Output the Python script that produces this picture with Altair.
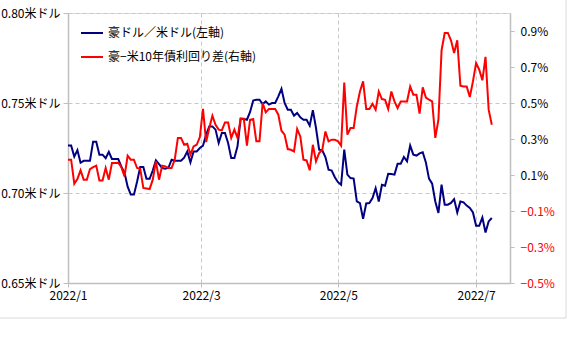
import altair as alt
import pandas as pd

# business-day index (0 = first trading day of 2022)
day_index = list(range(136))

aud_usd = [
    0.7264, 0.7264, 0.7202, 0.7238, 0.7168, 0.7179, 0.7179, 0.7179, 0.7285, 0.7285,
    0.7213, 0.7213, 0.7193, 0.7229, 0.7189, 0.7189, 0.7189, 0.7146, 0.7113, 0.7035,
    0.6991, 0.6991, 0.7063, 0.7144, 0.7144, 0.7079, 0.7079, 0.7125, 0.7181, 0.7160,
    0.7139, 0.7135, 0.7140, 0.7185, 0.7179, 0.7179, 0.7179, 0.7196, 0.7231, 0.7170,
    0.7231, 0.7231, 0.7250, 0.7263, 0.7324, 0.7370, 0.7370, 0.7352, 0.7278, 0.7333,
    0.7333, 0.7278, 0.7194, 0.7194, 0.7259, 0.7413, 0.7411, 0.7407, 0.7450, 0.7514,
    0.7518, 0.7518, 0.7494, 0.7509, 0.7491, 0.7500, 0.7500, 0.7537, 0.7579, 0.7500,
    0.7463, 0.7463, 0.7430, 0.7445, 0.7420, 0.7407, 0.7407, 0.7374, 0.7460, 0.7361,
    0.7241, 0.7237, 0.7200, 0.7129, 0.7125, 0.7088, 0.7060, 0.7046, 0.7241, 0.7102,
    0.7083, 0.7080, 0.6953, 0.6944, 0.6856, 0.6942, 0.6944, 0.6972, 0.7027, 0.6953,
    0.7046, 0.7040, 0.7107, 0.7105, 0.7102, 0.7163, 0.7163, 0.7200, 0.7176, 0.7263,
    0.7213, 0.7208, 0.7220, 0.7226, 0.7170, 0.7080, 0.7052, 0.6953, 0.6889, 0.7046,
    0.6935, 0.6935, 0.6945, 0.6966, 0.6892, 0.6953, 0.6948, 0.6930, 0.6917, 0.6892,
    0.6818, 0.6818, 0.6864, 0.6781, 0.6842, 0.6861,
]

spread_pct = [
    0.185, 0.185, 0.052, 0.078, 0.126, 0.074, 0.074, 0.133, 0.144, 0.152,
    0.070, 0.070, 0.139, 0.074, 0.167, 0.167, 0.168, 0.144, 0.092, 0.207,
    0.185, 0.185, 0.139, 0.135, 0.028, 0.025, 0.022, 0.074, 0.176, 0.074,
    0.152, 0.148, 0.139, 0.139, 0.185, 0.306, 0.306, 0.268, 0.274, 0.213,
    0.259, 0.268, 0.311, 0.468, 0.283, 0.361, 0.429, 0.379, 0.352, 0.348,
    0.392, 0.392, 0.306, 0.352, 0.306, 0.413, 0.413, 0.263, 0.407, 0.411,
    0.287, 0.287, 0.500, 0.448, 0.467, 0.467, 0.467, 0.435, 0.346, 0.324,
    0.244, 0.240, 0.231, 0.356, 0.314, 0.185, 0.181, 0.126, 0.268, 0.176,
    0.222, 0.240, 0.342, 0.287, 0.296, 0.296, 0.287, 0.263, 0.614, 0.324,
    0.361, 0.361, 0.481, 0.564, 0.620, 0.467, 0.467, 0.496, 0.463, 0.564,
    0.522, 0.518, 0.467, 0.564, 0.509, 0.472, 0.509, 0.509, 0.509, 0.592,
    0.546, 0.546, 0.441, 0.587, 0.530, 0.518, 0.509, 0.306, 0.407, 0.792,
    0.889, 0.889, 0.848, 0.778, 0.848, 0.596, 0.592, 0.592, 0.533, 0.620,
    0.722, 0.685, 0.626, 0.756, 0.463, 0.379,
]

x_tick_pos = [0, 42.4, 86.1, 130]
x_tick_labels = ["2022/1", "2022/3", "2022/5", "2022/7"]
left_ticks = [0.65, 0.70, 0.75, 0.80]
right_ticks = [-0.5, -0.3, -0.1, 0.1, 0.3, 0.5, 0.7, 0.9]

series_names = ["豪ドル／米ドル(左軸)", "豪−米10年債利回り差(右軸)"]
series_colors = ["#000080", "#ff0000"]

FONT = "Noto Sans CJK JP"

df_aud = pd.DataFrame({"idx": day_index, "v": aud_usd, "series": series_names[0]})
df_spr = pd.DataFrame({"idx": day_index, "v": spread_pct, "series": series_names[1]})

label_expr = "''"
for p, l in reversed(list(zip(x_tick_pos, x_tick_labels))):
    label_expr = f"abs(datum.value - {p}) < 0.5 ? '{l}' : ({label_expr})"

x_enc = alt.X(
    "idx:Q",
    scale=alt.Scale(domain=[0, 140.8], nice=False, zero=False),
    axis=alt.Axis(
        values=x_tick_pos, labelExpr=label_expr, title=None,
        grid=True, gridDash=[4, 3], gridColor="#c8c8c8",
        domainColor="#bfbfbf", domainWidth=1.5,
        tickColor="#bfbfbf", tickSize=4, labelPadding=3,
        labelFlush=False,
        labelFont=FONT, labelFontSize=12, labelColor="#000000",
    ),
)

color_enc = alt.Color(
    "series:N",
    scale=alt.Scale(domain=series_names, range=series_colors),
    legend=alt.Legend(
        title=None, orient="none", legendX=12, legendY=8,
        symbolType="stroke", symbolSize=484, symbolStrokeWidth=2,
        labelFont=FONT, labelFontSize=12, labelColor="#000000",
        rowPadding=6, padding=0, labelOffset=4,
    ),
)

left_line = alt.Chart(df_aud).mark_line(strokeWidth=2).encode(
    x=x_enc,
    y=alt.Y(
        "v:Q",
        scale=alt.Scale(domain=[0.65, 0.80], nice=False, zero=False),
        axis=alt.Axis(
            values=left_ticks, title=None,
            labelExpr="format(datum.value, '.2f') + '米ドル'",
            grid=True, gridDash=[4, 3], gridColor="#c8c8c8",
            domainColor="#bfbfbf", domainWidth=1.5,
            tickColor="#bfbfbf", tickSize=5, labelPadding=3,
            labelFont=FONT, labelFontSize=12, labelColor="#000000",
        ),
    ),
    color=color_enc,
)

right_line = alt.Chart(df_spr).mark_line(strokeWidth=2).encode(
    x=x_enc,
    y=alt.Y(
        "v:Q",
        scale=alt.Scale(domain=[-0.5, 1.0], nice=False, zero=False),
        axis=alt.Axis(
            orient="right", values=right_ticks, title=None,
            labelExpr="format(datum.value, '.1f') + '%'",
            grid=False,
            domainColor="#bfbfbf", domainWidth=1.5,
            tickColor="#bfbfbf", tickSize=4, labelPadding=6,
            labelFont=FONT, labelFontSize=12,
            labelColor={"condition": {"test": "datum.value < 0", "value": "#ff0000"}, "value": "#000000"},
        ),
    ),
    color=color_enc,
)

# thin outer frame of the chart area (bottom and right edges)
frame_bottom = alt.Chart(df_aud.head(1)).mark_rule(color="#d9d9d9", strokeWidth=1).encode(
    x=alt.value(-68), x2=alt.value(498), y=alt.value(305)
)
frame_right = alt.Chart(df_aud.head(1)).mark_rule(color="#d9d9d9", strokeWidth=1).encode(
    x=alt.value(498), y=alt.value(-13), y2=alt.value(305)
)

chart = (
    alt.layer(left_line, right_line, frame_bottom, frame_right)
    .resolve_scale(y="independent")
    .properties(
        width=442, height=270,
        autosize=alt.AutoSizeParams(type="none"),
        padding={"left": 68, "top": 13, "right": 58, "bottom": 70},
    )
    .configure_view(stroke=None)
    .configure(background="#ffffff")
)

chart.save("out.html", embed_options={"renderer": "svg", "actions": False})
